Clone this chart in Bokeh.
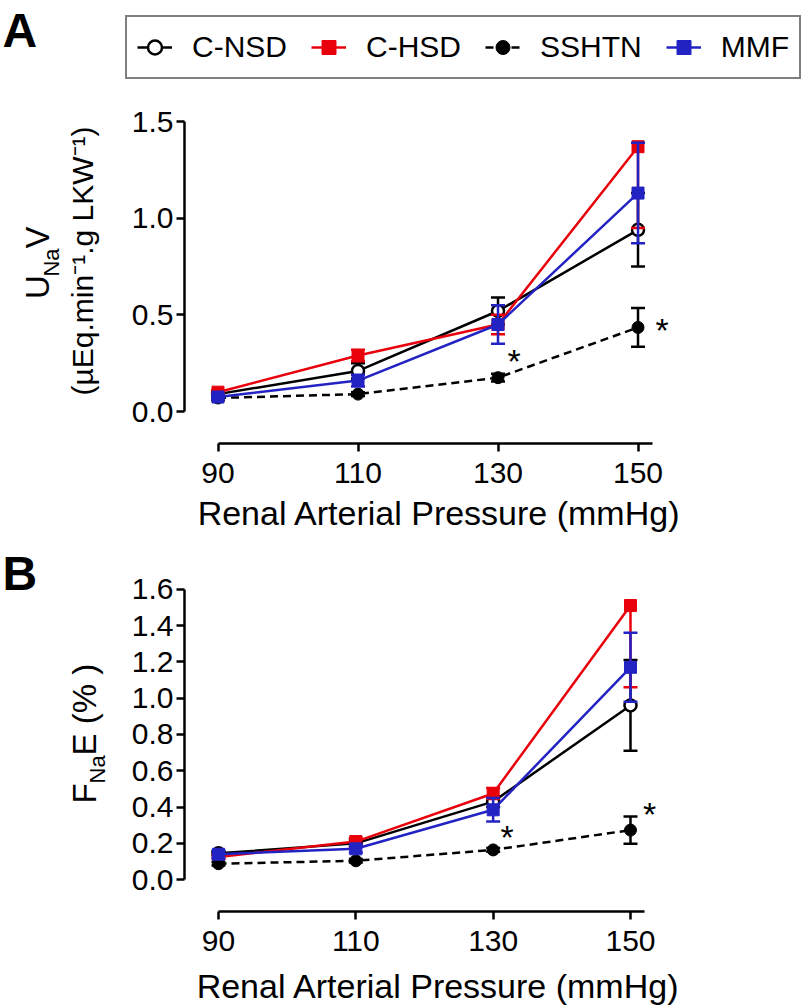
import numpy as np
from bokeh.plotting import figure
from bokeh.layouts import column, row
from bokeh.models import Range1d, FixedTicker, NumeralTickFormatter, Label, Legend, LegendItem
from bokeh.core.properties import value
from bokeh.embed import file_html
from bokeh.resources import INLINE

# ---------------- data ----------------
pressure = [90, 110, 130, 150]
groups = ["C-NSD", "C-HSD", "SSHTN", "MMF"]

# Panel A: UNaV (uEq/min/g LKW), mean and SEM
unav_cnsd = [0.09, 0.21, 0.52, 0.94]
unav_cnsd_sem = [0.01, 0.04, 0.07, 0.19]
unav_chsd = [0.10, 0.29, 0.45, 1.37]
unav_chsd_sem = [0.01, 0.03, 0.05, 0.42]
unav_sshtn = [0.07, 0.09, 0.175, 0.435]
unav_sshtn_sem = [0.01, 0.01, 0.02, 0.10]
unav_mmf = [0.075, 0.16, 0.45, 1.13]
unav_mmf_sem = [0.01, 0.03, 0.10, 0.26]

# Panel B: FNaE (%), mean and SEM
fnae_cnsd = [0.145, 0.20, 0.43, 0.96]
fnae_cnsd_sem = [0.01, 0.02, 0.03, 0.25]
fnae_chsd = [0.125, 0.21, 0.475, 1.51]
fnae_chsd_sem = [0.01, 0.02, 0.03, 0.45]
fnae_sshtn = [0.088, 0.104, 0.164, 0.273]
fnae_sshtn_sem = [0.01, 0.01, 0.01, 0.075]
fnae_mmf = [0.14, 0.17, 0.385, 1.17]
fnae_mmf_sem = [0.02, 0.02, 0.065, 0.19]

# significance (SSHTN vs controls)
sig_pressure = [130, 150]

x_ticks = [90, 110, 130, 150]
a_y_ticks = [0.0, 0.5, 1.0, 1.5]
b_y_ticks = [0.0, 0.2, 0.4, 0.6, 0.8, 1.0, 1.2, 1.4, 1.6]

# ---------------- styles ----------------
RED = "#e8000b"
BLUE = "#2323c4"
FONT = "Liberation Sans"
STYLES = {
    "C-NSD": dict(color="black", marker="circle", fill="white", dash="solid", size=12, lw=2.5),
    "C-HSD": dict(color=RED, marker="square", fill=RED, dash="solid", size=12, lw=1),
    "SSHTN": dict(color="black", marker="circle", fill="black", dash="8 5", size=12, lw=1),
    "MMF": dict(color=BLUE, marker="square", fill=BLUE, dash="solid", size=12, lw=1),
}


def series_glyphs(p, name, x, m, visible=True):
    st = STYLES[name]
    lr = p.line(x, m, line_color=st["color"], line_width=2.5, line_dash=st["dash"], visible=visible)
    mr = p.scatter(x, m, marker=st["marker"], size=st["size"], line_color=st["color"],
                   fill_color=st["fill"], line_width=st["lw"], visible=visible)
    return [lr, mr]


def add_series(p, name, means, sems, ytop):
    st = STYLES[name]
    x = np.array(pressure, dtype=float)
    m = np.array(means, dtype=float)
    s = np.array(sems, dtype=float)
    lo = m - s
    hi = m + s
    show_hi = hi <= ytop + 1e-9
    hi_draw = np.where(show_hi, hi, m)
    p.segment(x, lo, x, hi_draw, line_color=st["color"], line_width=2.5)
    cx = np.concatenate([x, x[show_hi]])
    cy = np.concatenate([lo, hi[show_hi]])
    p.scatter(cx, cy, marker="dash", size=14, line_color=st["color"], line_width=2.5)
    return series_glyphs(p, name, x, m)


def style_axes(p, xb, yb, yticks, xlabel, label_standoff):
    p.xgrid.visible = False
    p.ygrid.visible = False
    p.outline_line_color = None
    for ax in (p.xaxis[0], p.yaxis[0]):
        ax.axis_line_width = 2.5
        ax.axis_line_color = "black"
        ax.major_tick_line_width = 2.5
        ax.major_tick_line_color = "black"
        ax.major_tick_out = 8
        ax.major_tick_in = 0
        ax.minor_tick_line_color = None
        ax.major_label_text_font = FONT
        ax.major_label_text_font_size = "30px"
        ax.major_label_text_color = "black"
    p.xaxis[0].ticker = FixedTicker(ticks=x_ticks)
    p.xaxis[0].bounds = xb
    p.xaxis[0].major_label_standoff = 11
    p.xaxis[0].axis_label = xlabel
    p.xaxis[0].axis_label_text_font = FONT
    p.xaxis[0].axis_label_text_font_size = "34px"
    p.xaxis[0].axis_label_text_font_style = "normal"
    p.xaxis[0].axis_label_text_color = "black"
    p.xaxis[0].axis_label_standoff = label_standoff
    p.yaxis[0].ticker = FixedTicker(ticks=yticks)
    p.yaxis[0].bounds = yb
    p.yaxis[0].formatter = NumeralTickFormatter(format="0.0")
    p.yaxis[0].major_label_standoff = 3


def add_stars(p, means, offsets):
    ys = [means[pressure.index(v)] for v in sig_pressure]
    p.text(x=sig_pressure, y=ys, text=["*"] * len(sig_pressure),
           x_offset=[o[0] for o in offsets], y_offset=[o[1] for o in offsets],
           text_font=value(FONT), text_font_size="34px", text_align="center",
           text_baseline="alphabetic", text_color="black")


def lab(p, text, sx, sy, size, bold=False, angle=0.0, align="left"):
    p.add_layout(Label(x=sx, y=sy, x_units="screen", y_units="screen", text=text,
                       angle=angle, text_font=FONT, text_font_size=size,
                       text_font_style="bold" if bold else "normal",
                       text_align=align, text_baseline="middle", text_color="black"))


def blank_fig(w, h, top=0, bottom=0):
    f = figure(width=w, height=h, x_range=Range1d(0, w), y_range=Range1d(0, h),
               min_border_left=0, min_border_right=0, min_border_top=top, min_border_bottom=bottom,
               output_backend="svg", toolbar_location=None, title=None)
    f.axis.visible = False
    f.grid.visible = False
    f.outline_line_color = None
    return f


XLABEL = "Renal Arterial Pressure (mmHg)"
UP = np.pi / 2

# ---------------- legend strip ----------------
top = blank_fig(807, 100)
leg_items = [LegendItem(label=g, renderers=series_glyphs(top, g, pressure, mm, visible=False))
             for g, mm in zip(groups, [unav_cnsd, unav_chsd, unav_sshtn, unav_mmf])]
legend = Legend(items=leg_items, location=(125, 21), orientation="horizontal",
                label_text_font=FONT, label_text_font_size="30px", label_text_color="black",
                glyph_width=35, glyph_height=40, label_standoff=20, spacing=24, padding=10,
                margin=0, border_line_color="black", border_line_width=2,
                background_fill_color="white", background_fill_alpha=1.0,
                inactive_fill_alpha=0.0)
top.add_layout(legend)
lab(top, "A", 2, 70, "48px", bold=True)

# ---------------- panel A (frame: page y 100..443) ----------------
la = blank_fig(120, 440, top=0, bottom=97)
lab(la, "U", 36.5, 156.5, "33px", angle=UP, align="center")
lab(la, "Na", 51, 181, "22px", angle=UP, align="center")
lab(la, "V", 36.5, 206, "33px", angle=UP, align="center")
lab(la, "(\u00b5Eq.min\u207b\u00b9.g LKW\u207b\u00b9)", 82, 182.5, "30px", angle=UP, align="center")

pa = figure(width=687, height=440, x_range=Range1d(85.214, 158.07), y_range=Range1d(-0.1655, 1.609),
            min_border_left=64, min_border_right=113, min_border_top=0, min_border_bottom=97,
            output_backend="svg", toolbar_location=None, title=None)
style_axes(pa, (90, 152.14), (0, 1.5), a_y_ticks, XLABEL, 8)
for g, mm, ss in zip(groups, [unav_cnsd, unav_chsd, unav_sshtn, unav_mmf],
                     [unav_cnsd_sem, unav_chsd_sem, unav_sshtn_sem, unav_mmf_sem]):
    add_series(pa, g, mm, ss, a_y_ticks[-1])
add_stars(pa, unav_sshtn, [(16, -17), (24, 3)])

# ---------------- panel B (frame: page y 540..913) ----------------
lb = blank_fig(120, 467, top=0, bottom=94)
lab(lb, "B", 2, 338.5, "48px", bold=True)
lab(lb, "F", 83.5, 108, "33px", angle=UP)
lab(lb, "Na", 97, 128, "22px", angle=UP)
lab(lb, "E (% )", 83.5, 156, "33px", angle=UP)

pb = figure(width=687, height=467, x_range=Range1d(85.049, 159.03), y_range=Range1d(-0.1753, 1.8685),
            min_border_left=64, min_border_right=115, min_border_top=0, min_border_bottom=94,
            output_backend="svg", toolbar_location=None, title=None)
style_axes(pb, (90, 152.04), (0, 1.6), b_y_ticks, XLABEL, 13)
for g, mm, ss in zip(groups, [fnae_cnsd, fnae_chsd, fnae_sshtn, fnae_mmf],
                     [fnae_cnsd_sem, fnae_chsd_sem, fnae_sshtn_sem, fnae_mmf_sem]):
    add_series(pb, g, mm, ss, b_y_ticks[-1])
add_stars(pb, fnae_sshtn, [(14, -13), (19, -16)])

layout = column(top, row(la, pa, spacing=0), row(lb, pb, spacing=0), spacing=0)
open("out.html", "w").write(file_html(layout, INLINE))
